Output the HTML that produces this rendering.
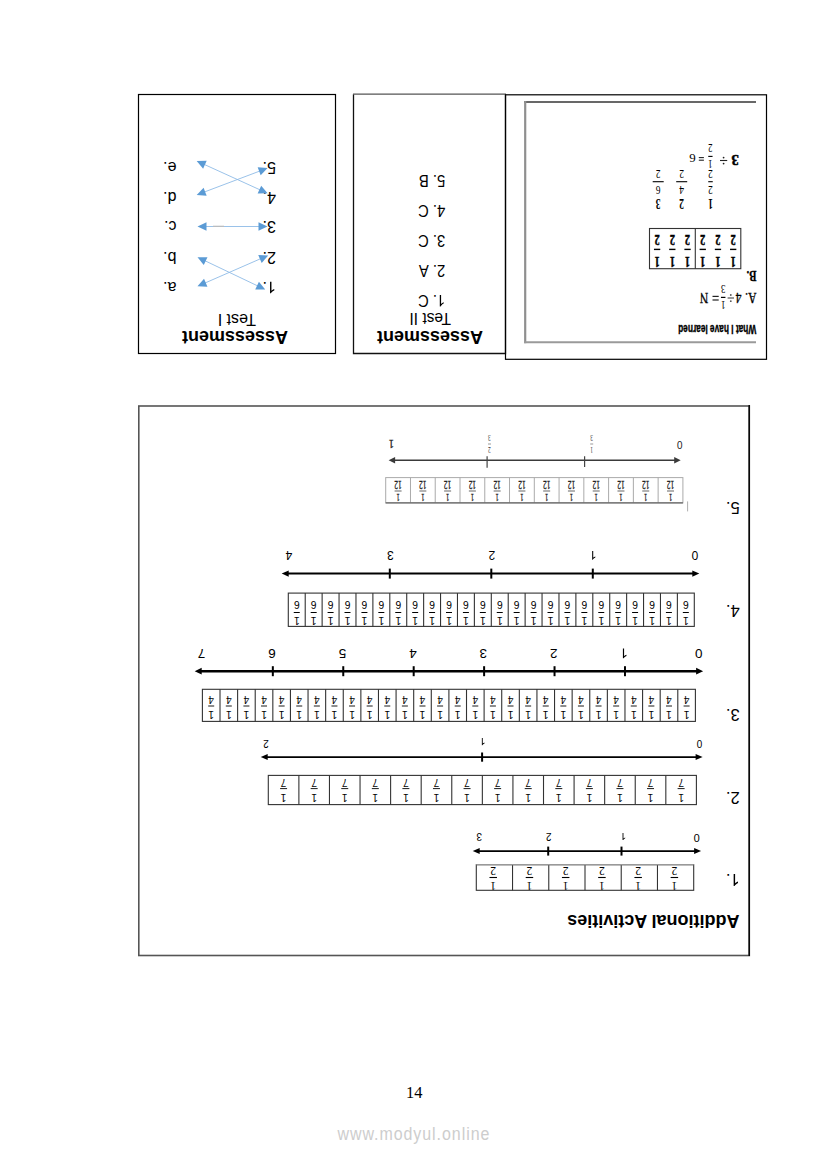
<!DOCTYPE html>
<html><head><meta charset="utf-8"><title>Page 14</title>
<style>html,body{margin:0;padding:0;background:#fff;}body{width:826px;height:1169px;position:relative;overflow:hidden;}svg{position:absolute;left:0;top:0;}</style>
</head><body>
<svg width="826" height="1169" viewBox="0 0 826 1169">
<rect x="138.50" y="94.50" width="197.00" height="259.00" stroke="#000" stroke-width="1.2" fill="none"/>
<polyline points="353.5,94.2 353.5,353.5 505.5,353.5 505.5,94.2" fill="none" stroke="#111" stroke-width="1.3"/>
<line x1="353.00" y1="94.10" x2="506.00" y2="94.10" stroke="#555" stroke-width="1.4"/>
<rect x="505.50" y="94.80" width="261.00" height="264.50" stroke="#000" stroke-width="1.2" fill="none"/>
<line x1="524.10" y1="101.90" x2="756.00" y2="101.90" stroke="#686868" stroke-width="2"/>
<line x1="525.20" y1="101.00" x2="525.20" y2="343.20" stroke="#8f8f8f" stroke-width="2.2"/>
<line x1="524.10" y1="342.20" x2="756.00" y2="342.20" stroke="#9a9a9a" stroke-width="2"/>
<g transform="translate(235.00,330.80) rotate(180)"><text x="0" y="0" font-family="'Liberation Sans', sans-serif" font-size="18" font-weight="bold" text-anchor="middle" fill="#000">Assessment</text></g>
<g transform="translate(236.90,313.50) rotate(180)"><text x="0" y="0" font-family="'Liberation Sans', sans-serif" font-size="16" font-weight="normal" text-anchor="middle" fill="#000">Test I</text></g>
<path transform="translate(276.00,281.80) scale(-0.00781,0.00781)" d="M763 0 L583 0 L583 1147 Q518 1085 412 1023 Q306 961 222 930 L222 1104 Q375 1176 489 1278 Q603 1380 651 1472 L763 1472 Z" fill="#000"/>
<g transform="translate(267.10,281.80) rotate(180)"><text x="0" y="0" font-family="'Liberation Sans', sans-serif" font-size="16" font-weight="normal" text-anchor="start" fill="#000">.</text></g>
<g transform="translate(176.50,281.80) rotate(180)"><text x="0" y="0" font-family="'Liberation Sans', sans-serif" font-size="16" font-weight="normal" text-anchor="start" fill="#000">a.</text></g>
<g transform="translate(276.00,251.80) rotate(180)"><text x="0" y="0" font-family="'Liberation Sans', sans-serif" font-size="16" font-weight="normal" text-anchor="start" fill="#000">2.</text></g>
<g transform="translate(176.50,251.80) rotate(180)"><text x="0" y="0" font-family="'Liberation Sans', sans-serif" font-size="16" font-weight="normal" text-anchor="start" fill="#000">b.</text></g>
<g transform="translate(276.00,221.40) rotate(180)"><text x="0" y="0" font-family="'Liberation Sans', sans-serif" font-size="16" font-weight="normal" text-anchor="start" fill="#000">3.</text></g>
<g transform="translate(176.50,221.40) rotate(180)"><text x="0" y="0" font-family="'Liberation Sans', sans-serif" font-size="16" font-weight="normal" text-anchor="start" fill="#000">c.</text></g>
<g transform="translate(276.00,191.80) rotate(180)"><text x="0" y="0" font-family="'Liberation Sans', sans-serif" font-size="16" font-weight="normal" text-anchor="start" fill="#000">4.</text></g>
<g transform="translate(176.50,191.80) rotate(180)"><text x="0" y="0" font-family="'Liberation Sans', sans-serif" font-size="16" font-weight="normal" text-anchor="start" fill="#000">d.</text></g>
<g transform="translate(276.00,161.80) rotate(180)"><text x="0" y="0" font-family="'Liberation Sans', sans-serif" font-size="16" font-weight="normal" text-anchor="start" fill="#000">5.</text></g>
<g transform="translate(176.50,161.80) rotate(180)"><text x="0" y="0" font-family="'Liberation Sans', sans-serif" font-size="16" font-weight="normal" text-anchor="start" fill="#000">e.</text></g>
<line x1="204.00" y1="260.30" x2="258.70" y2="286.40" stroke="#8fbbe6" stroke-width="0.9"/>
<polygon points="197.50,257.20 203.77,264.96 207.47,257.19" fill="#5b9bd5"/>
<polygon points="265.20,289.50 255.23,289.51 258.93,281.74" fill="#5b9bd5"/>
<line x1="204.10" y1="283.42" x2="261.60" y2="258.28" stroke="#8fbbe6" stroke-width="0.9"/>
<polygon points="197.50,286.30 207.47,286.64 204.02,278.76" fill="#5b9bd5"/>
<polygon points="268.20,255.40 261.68,262.94 258.23,255.06" fill="#5b9bd5"/>
<line x1="204.70" y1="226.50" x2="260.30" y2="226.50" stroke="#8fbbe6" stroke-width="0.9"/>
<polygon points="197.50,226.50 206.50,230.80 206.50,222.20" fill="#5b9bd5"/>
<polygon points="267.50,226.50 258.50,230.80 258.50,222.20" fill="#5b9bd5"/>
<line x1="213.00" y1="226.30" x2="224.00" y2="226.30" stroke="#bbb" stroke-width="1.2"/>
<line x1="203.25" y1="163.98" x2="261.05" y2="190.32" stroke="#8fbbe6" stroke-width="0.9"/>
<polygon points="196.70,161.00 203.11,168.64 206.67,160.82" fill="#5b9bd5"/>
<polygon points="267.60,193.30 257.63,193.48 261.19,185.66" fill="#5b9bd5"/>
<line x1="203.43" y1="192.35" x2="260.87" y2="170.65" stroke="#8fbbe6" stroke-width="0.9"/>
<polygon points="196.70,194.90 206.64,195.74 203.60,187.70" fill="#5b9bd5"/>
<polygon points="267.60,168.10 260.70,175.30 257.66,167.26" fill="#5b9bd5"/>
<g transform="translate(430.00,330.80) rotate(180)"><text x="0" y="0" font-family="'Liberation Sans', sans-serif" font-size="18" font-weight="bold" text-anchor="middle" fill="#000">Assessment</text></g>
<g transform="translate(430.10,313.20) rotate(180)"><text x="0" y="0" font-family="'Liberation Sans', sans-serif" font-size="15.6" font-weight="normal" text-anchor="middle" fill="#000">Test II</text></g>
<path transform="translate(445.30,295.00) scale(-0.00722,0.00776)" d="M763 0 L583 0 L583 1147 Q518 1085 412 1023 Q306 961 222 930 L222 1104 Q375 1176 489 1278 Q603 1380 651 1472 L763 1472 Z" fill="#000"/>
<g transform="translate(437.08,295.00) rotate(180) scale(0.93,1)"><text x="0" y="0" font-family="'Liberation Sans', sans-serif" font-size="15.9" font-weight="normal" text-anchor="start" fill="#000">.&#160;C</text></g>
<g transform="translate(445.30,265.00) rotate(180) scale(0.93,1)"><text x="0" y="0" font-family="'Liberation Sans', sans-serif" font-size="15.9" font-weight="normal" text-anchor="start" fill="#000">2.&#160;A</text></g>
<g transform="translate(445.30,234.90) rotate(180) scale(0.93,1)"><text x="0" y="0" font-family="'Liberation Sans', sans-serif" font-size="15.9" font-weight="normal" text-anchor="start" fill="#000">3.&#160;C</text></g>
<g transform="translate(445.30,204.80) rotate(180) scale(0.93,1)"><text x="0" y="0" font-family="'Liberation Sans', sans-serif" font-size="15.9" font-weight="normal" text-anchor="start" fill="#000">4.&#160;C</text></g>
<g transform="translate(445.30,174.80) rotate(180) scale(0.93,1)"><text x="0" y="0" font-family="'Liberation Sans', sans-serif" font-size="15.9" font-weight="normal" text-anchor="start" fill="#000">5.&#160;B</text></g>
<g transform="translate(756.20,324.60) rotate(180) scale(0.64,1)"><text x="0" y="0" font-family="'Liberation Sans', sans-serif" font-size="13" font-weight="bold" text-anchor="start" fill="#000" stroke="#000" stroke-width="0.35">What I have learned</text></g>
<g transform="translate(756.50,293.30) rotate(180) scale(0.75,1)"><text x="0" y="0" font-family="'Liberation Serif', serif" font-size="15.5" font-weight="normal" text-anchor="start" fill="#000" stroke="#000" stroke-width="0.3">A.</text></g>
<g transform="translate(738.50,293.30) rotate(180) scale(0.75,1)"><text x="0" y="0" font-family="'Liberation Serif', serif" font-size="15.5" font-weight="normal" text-anchor="middle" fill="#000" stroke="#000" stroke-width="0.3">4</text></g>
<line x1="727.60" y1="298.00" x2="734.00" y2="298.00" stroke="#444" stroke-width="1.1"/>
<circle cx="730.8" cy="295" r="0.9" fill="#555"/><circle cx="730.8" cy="301.2" r="0.9" fill="#555"/>
<g transform="translate(723.20,301.20) rotate(180) scale(0.75,1)"><text x="0" y="0" font-family="'Liberation Serif', serif" font-size="12" font-weight="normal" text-anchor="middle" fill="#000">1</text></g>
<g transform="translate(723.20,284.58) rotate(180) scale(0.75,1)"><text x="0" y="0" font-family="'Liberation Serif', serif" font-size="12" font-weight="normal" text-anchor="middle" fill="#000">3</text></g>
<line x1="720.95" y1="297.40" x2="725.45" y2="297.40" stroke="#000" stroke-width="1.2"/>
<line x1="712.50" y1="296.40" x2="718.70" y2="296.40" stroke="#222" stroke-width="1.2"/>
<line x1="712.50" y1="300.00" x2="718.70" y2="300.00" stroke="#222" stroke-width="1.2"/>
<g transform="translate(704.00,293.30) rotate(180) scale(0.75,1)"><text x="0" y="0" font-family="'Liberation Serif', serif" font-size="15.5" font-weight="normal" text-anchor="middle" fill="#000" stroke="#000" stroke-width="0.3">N</text></g>
<g transform="translate(756.50,271.40) rotate(180) scale(0.72,1)"><text x="0" y="0" font-family="'Liberation Serif', serif" font-size="15" font-weight="bold" text-anchor="start" fill="#000" stroke="#000" stroke-width="0.3">B.</text></g>
<rect x="649.50" y="228.50" width="91.30" height="40.20" stroke="#333" stroke-width="1.1" fill="none"/>
<line x1="695.30" y1="228.50" x2="695.30" y2="268.70" stroke="#333" stroke-width="1.1"/>
<g transform="translate(733.19,256.60) rotate(180) scale(0.66,1)"><text x="0" y="0" font-family="'Liberation Serif', serif" font-size="15.5" font-weight="bold" text-anchor="middle" fill="#000" stroke="#000" stroke-width="0.5">1</text></g>
<g transform="translate(733.19,235.17) rotate(180) scale(0.66,1)"><text x="0" y="0" font-family="'Liberation Serif', serif" font-size="15.5" font-weight="bold" text-anchor="middle" fill="#000" stroke="#000" stroke-width="0.5">2</text></g>
<line x1="730.04" y1="249.40" x2="736.34" y2="249.40" stroke="#000" stroke-width="1.4"/>
<g transform="translate(717.97,256.60) rotate(180) scale(0.66,1)"><text x="0" y="0" font-family="'Liberation Serif', serif" font-size="15.5" font-weight="bold" text-anchor="middle" fill="#000" stroke="#000" stroke-width="0.5">1</text></g>
<g transform="translate(717.97,235.17) rotate(180) scale(0.66,1)"><text x="0" y="0" font-family="'Liberation Serif', serif" font-size="15.5" font-weight="bold" text-anchor="middle" fill="#000" stroke="#000" stroke-width="0.5">2</text></g>
<line x1="714.82" y1="249.40" x2="721.12" y2="249.40" stroke="#000" stroke-width="1.4"/>
<g transform="translate(702.76,256.60) rotate(180) scale(0.66,1)"><text x="0" y="0" font-family="'Liberation Serif', serif" font-size="15.5" font-weight="bold" text-anchor="middle" fill="#000" stroke="#000" stroke-width="0.5">1</text></g>
<g transform="translate(702.76,235.17) rotate(180) scale(0.66,1)"><text x="0" y="0" font-family="'Liberation Serif', serif" font-size="15.5" font-weight="bold" text-anchor="middle" fill="#000" stroke="#000" stroke-width="0.5">2</text></g>
<line x1="699.61" y1="249.40" x2="705.91" y2="249.40" stroke="#000" stroke-width="1.4"/>
<g transform="translate(687.54,256.60) rotate(180) scale(0.66,1)"><text x="0" y="0" font-family="'Liberation Serif', serif" font-size="15.5" font-weight="bold" text-anchor="middle" fill="#000" stroke="#000" stroke-width="0.5">1</text></g>
<g transform="translate(687.54,235.17) rotate(180) scale(0.66,1)"><text x="0" y="0" font-family="'Liberation Serif', serif" font-size="15.5" font-weight="bold" text-anchor="middle" fill="#000" stroke="#000" stroke-width="0.5">2</text></g>
<line x1="684.39" y1="249.40" x2="690.69" y2="249.40" stroke="#000" stroke-width="1.4"/>
<g transform="translate(672.32,256.60) rotate(180) scale(0.66,1)"><text x="0" y="0" font-family="'Liberation Serif', serif" font-size="15.5" font-weight="bold" text-anchor="middle" fill="#000" stroke="#000" stroke-width="0.5">1</text></g>
<g transform="translate(672.32,235.17) rotate(180) scale(0.66,1)"><text x="0" y="0" font-family="'Liberation Serif', serif" font-size="15.5" font-weight="bold" text-anchor="middle" fill="#000" stroke="#000" stroke-width="0.5">2</text></g>
<line x1="669.17" y1="249.40" x2="675.47" y2="249.40" stroke="#000" stroke-width="1.4"/>
<g transform="translate(657.11,256.60) rotate(180) scale(0.66,1)"><text x="0" y="0" font-family="'Liberation Serif', serif" font-size="15.5" font-weight="bold" text-anchor="middle" fill="#000" stroke="#000" stroke-width="0.5">1</text></g>
<g transform="translate(657.11,235.17) rotate(180) scale(0.66,1)"><text x="0" y="0" font-family="'Liberation Serif', serif" font-size="15.5" font-weight="bold" text-anchor="middle" fill="#000" stroke="#000" stroke-width="0.5">2</text></g>
<line x1="653.96" y1="249.40" x2="660.26" y2="249.40" stroke="#000" stroke-width="1.4"/>
<g transform="translate(735.10,154.70) rotate(180) scale(0.94,1)"><text x="0" y="0" font-family="'Liberation Serif', serif" font-size="15.5" font-weight="bold" text-anchor="middle" fill="#000" stroke="#000" stroke-width="0.5">3</text></g>
<line x1="720.00" y1="160.50" x2="727.20" y2="160.50" stroke="#222" stroke-width="1.1"/>
<circle cx="723.6" cy="157.6" r="0.9" fill="#222"/><circle cx="723.6" cy="163.6" r="0.9" fill="#222"/>
<g transform="translate(710.40,160.00) rotate(180) scale(0.7,1)"><text x="0" y="0" font-family="'Liberation Serif', serif" font-size="12.5" font-weight="normal" text-anchor="middle" fill="#000">1</text></g>
<g transform="translate(710.40,144.45) rotate(180) scale(0.7,1)"><text x="0" y="0" font-family="'Liberation Serif', serif" font-size="12.5" font-weight="normal" text-anchor="middle" fill="#000">2</text></g>
<line x1="708.25" y1="156.40" x2="712.55" y2="156.40" stroke="#000" stroke-width="1.1"/>
<line x1="698.80" y1="157.60" x2="703.90" y2="157.60" stroke="#222" stroke-width="1.1"/>
<line x1="698.80" y1="160.20" x2="703.90" y2="160.20" stroke="#222" stroke-width="1.1"/>
<g transform="translate(692.60,154.00) rotate(180)"><text x="0" y="0" font-family="'Liberation Serif', serif" font-size="13" font-weight="normal" text-anchor="middle" fill="#000">6</text></g>
<g transform="translate(710.50,198.60) rotate(180) scale(0.62,1)"><text x="0" y="0" font-family="'Liberation Serif', serif" font-size="15.5" font-weight="bold" text-anchor="middle" fill="#000">1</text></g>
<g transform="translate(710.50,186.00) rotate(180) scale(0.75,1)"><text x="0" y="0" font-family="'Liberation Serif', serif" font-size="12.5" font-weight="normal" text-anchor="middle" fill="#000">2</text></g>
<g transform="translate(710.50,169.75) rotate(180) scale(0.75,1)"><text x="0" y="0" font-family="'Liberation Serif', serif" font-size="12.5" font-weight="normal" text-anchor="middle" fill="#000">2</text></g>
<line x1="708.25" y1="181.70" x2="712.75" y2="181.70" stroke="#000" stroke-width="1.1"/>
<g transform="translate(681.70,198.60) rotate(180) scale(0.62,1)"><text x="0" y="0" font-family="'Liberation Serif', serif" font-size="15.5" font-weight="bold" text-anchor="middle" fill="#000">2</text></g>
<g transform="translate(681.70,186.00) rotate(180) scale(0.75,1)"><text x="0" y="0" font-family="'Liberation Serif', serif" font-size="12.5" font-weight="normal" text-anchor="middle" fill="#000">4</text></g>
<g transform="translate(681.70,169.75) rotate(180) scale(0.75,1)"><text x="0" y="0" font-family="'Liberation Serif', serif" font-size="12.5" font-weight="normal" text-anchor="middle" fill="#000">2</text></g>
<line x1="676.20" y1="181.70" x2="687.20" y2="181.70" stroke="#000" stroke-width="1.1"/>
<g transform="translate(658.20,198.60) rotate(180) scale(0.62,1)"><text x="0" y="0" font-family="'Liberation Serif', serif" font-size="15.5" font-weight="bold" text-anchor="middle" fill="#000">3</text></g>
<g transform="translate(658.20,186.00) rotate(180) scale(0.75,1)"><text x="0" y="0" font-family="'Liberation Serif', serif" font-size="12.5" font-weight="normal" text-anchor="middle" fill="#000">6</text></g>
<g transform="translate(658.20,169.75) rotate(180) scale(0.75,1)"><text x="0" y="0" font-family="'Liberation Serif', serif" font-size="12.5" font-weight="normal" text-anchor="middle" fill="#000">2</text></g>
<line x1="652.70" y1="181.70" x2="663.70" y2="181.70" stroke="#000" stroke-width="1.1"/>
<rect x="138.8" y="406" width="610.5" height="549.5" fill="none" stroke="#555" stroke-width="1.6"/>
<line x1="749.20" y1="405.00" x2="749.20" y2="956.00" stroke="#000" stroke-width="1.4"/>
<g transform="translate(739.50,915.30) rotate(180)"><text x="0" y="0" font-family="'Liberation Sans', sans-serif" font-size="18" font-weight="bold" text-anchor="start" fill="#000">Additional Activities</text></g>
<g transform="translate(739.80,501.50) rotate(180)"><text x="0" y="0" font-family="'Liberation Sans', sans-serif" font-size="16.5" font-weight="normal" text-anchor="start" fill="#000">5.</text></g>
<g transform="translate(739.80,605.00) rotate(180)"><text x="0" y="0" font-family="'Liberation Sans', sans-serif" font-size="16.5" font-weight="normal" text-anchor="start" fill="#000">4.</text></g>
<g transform="translate(739.80,709.00) rotate(180)"><text x="0" y="0" font-family="'Liberation Sans', sans-serif" font-size="16.5" font-weight="normal" text-anchor="start" fill="#000">3.</text></g>
<g transform="translate(739.80,791.60) rotate(180)"><text x="0" y="0" font-family="'Liberation Sans', sans-serif" font-size="16.5" font-weight="normal" text-anchor="start" fill="#000">2.</text></g>
<path transform="translate(739.80,874.10) scale(-0.00806,0.00806)" d="M763 0 L583 0 L583 1147 Q518 1085 412 1023 Q306 961 222 930 L222 1104 Q375 1176 489 1278 Q603 1380 651 1472 L763 1472 Z" fill="#000"/>
<g transform="translate(730.62,874.10) rotate(180)"><text x="0" y="0" font-family="'Liberation Sans', sans-serif" font-size="16.5" font-weight="normal" text-anchor="start" fill="#000">.</text></g>
<rect x="476.30" y="864.70" width="217.40" height="25.60" stroke="#333" stroke-width="1.1" fill="none"/>
<line x1="512.53" y1="864.70" x2="512.53" y2="890.30" stroke="#333" stroke-width="1.1"/>
<line x1="548.77" y1="864.70" x2="548.77" y2="890.30" stroke="#333" stroke-width="1.1"/>
<line x1="585.00" y1="864.70" x2="585.00" y2="890.30" stroke="#333" stroke-width="1.1"/>
<line x1="621.23" y1="864.70" x2="621.23" y2="890.30" stroke="#333" stroke-width="1.1"/>
<line x1="657.47" y1="864.70" x2="657.47" y2="890.30" stroke="#333" stroke-width="1.1"/>
<line x1="476.30" y1="864.70" x2="693.70" y2="864.70" stroke="#999" stroke-width="1.2"/>
<g transform="translate(674.38,882.10) rotate(180)"><text x="0" y="0" font-family="'Liberation Serif', serif" font-size="11.5" font-weight="normal" text-anchor="middle" fill="#000">1</text></g>
<g transform="translate(674.38,867.11) rotate(180)"><text x="0" y="0" font-family="'Liberation Serif', serif" font-size="11.5" font-weight="normal" text-anchor="middle" fill="#000">2</text></g>
<line x1="670.63" y1="877.50" x2="678.13" y2="877.50" stroke="#000" stroke-width="1.1"/>
<g transform="translate(638.15,882.10) rotate(180)"><text x="0" y="0" font-family="'Liberation Serif', serif" font-size="11.5" font-weight="normal" text-anchor="middle" fill="#000">1</text></g>
<g transform="translate(638.15,867.11) rotate(180)"><text x="0" y="0" font-family="'Liberation Serif', serif" font-size="11.5" font-weight="normal" text-anchor="middle" fill="#000">2</text></g>
<line x1="634.40" y1="877.50" x2="641.90" y2="877.50" stroke="#000" stroke-width="1.1"/>
<g transform="translate(601.92,882.10) rotate(180)"><text x="0" y="0" font-family="'Liberation Serif', serif" font-size="11.5" font-weight="normal" text-anchor="middle" fill="#000">1</text></g>
<g transform="translate(601.92,867.11) rotate(180)"><text x="0" y="0" font-family="'Liberation Serif', serif" font-size="11.5" font-weight="normal" text-anchor="middle" fill="#000">2</text></g>
<line x1="598.17" y1="877.50" x2="605.67" y2="877.50" stroke="#000" stroke-width="1.1"/>
<g transform="translate(565.68,882.10) rotate(180)"><text x="0" y="0" font-family="'Liberation Serif', serif" font-size="11.5" font-weight="normal" text-anchor="middle" fill="#000">1</text></g>
<g transform="translate(565.68,867.11) rotate(180)"><text x="0" y="0" font-family="'Liberation Serif', serif" font-size="11.5" font-weight="normal" text-anchor="middle" fill="#000">2</text></g>
<line x1="561.93" y1="877.50" x2="569.43" y2="877.50" stroke="#000" stroke-width="1.1"/>
<g transform="translate(529.45,882.10) rotate(180)"><text x="0" y="0" font-family="'Liberation Serif', serif" font-size="11.5" font-weight="normal" text-anchor="middle" fill="#000">1</text></g>
<g transform="translate(529.45,867.11) rotate(180)"><text x="0" y="0" font-family="'Liberation Serif', serif" font-size="11.5" font-weight="normal" text-anchor="middle" fill="#000">2</text></g>
<line x1="525.70" y1="877.50" x2="533.20" y2="877.50" stroke="#000" stroke-width="1.1"/>
<g transform="translate(493.22,882.10) rotate(180)"><text x="0" y="0" font-family="'Liberation Serif', serif" font-size="11.5" font-weight="normal" text-anchor="middle" fill="#000">1</text></g>
<g transform="translate(493.22,867.11) rotate(180)"><text x="0" y="0" font-family="'Liberation Serif', serif" font-size="11.5" font-weight="normal" text-anchor="middle" fill="#000">2</text></g>
<line x1="489.47" y1="877.50" x2="496.97" y2="877.50" stroke="#000" stroke-width="1.1"/>
<line x1="478.70" y1="851.10" x2="695.10" y2="851.10" stroke="#000" stroke-width="1.8"/>
<polygon points="472.70,851.10 479.70,848.10 479.70,854.10" fill="#000"/>
<polygon points="701.10,851.10 694.10,848.10 694.10,854.10" fill="#000"/>
<line x1="621.50" y1="846.60" x2="621.50" y2="855.60" stroke="#000" stroke-width="2"/>
<line x1="548.20" y1="846.60" x2="548.20" y2="855.60" stroke="#000" stroke-width="2"/>
<g transform="translate(699.66,834.20) rotate(180)"><text x="0" y="0" font-family="'Liberation Sans', sans-serif" font-size="11" font-weight="normal" text-anchor="start" fill="#000">0</text></g>
<path transform="translate(626.28,832.90) scale(-0.00488,0.00488)" d="M763 0 L583 0 L583 1147 Q518 1085 412 1023 Q306 961 222 930 L222 1104 Q375 1176 489 1278 Q603 1380 651 1472 L763 1472 Z" fill="#000"/>
<g transform="translate(551.58,833.30) rotate(180)"><text x="0" y="0" font-family="'Liberation Sans', sans-serif" font-size="10" font-weight="normal" text-anchor="start" fill="#000">2</text></g>
<g transform="translate(482.08,833.30) rotate(180)"><text x="0" y="0" font-family="'Liberation Sans', sans-serif" font-size="10" font-weight="normal" text-anchor="start" fill="#000">3</text></g>
<rect x="268.30" y="775.40" width="428.10" height="29.20" stroke="#333" stroke-width="1.1" fill="none"/>
<line x1="298.88" y1="775.40" x2="298.88" y2="804.60" stroke="#333" stroke-width="1.1"/>
<line x1="329.46" y1="775.40" x2="329.46" y2="804.60" stroke="#333" stroke-width="1.1"/>
<line x1="360.04" y1="775.40" x2="360.04" y2="804.60" stroke="#333" stroke-width="1.1"/>
<line x1="390.61" y1="775.40" x2="390.61" y2="804.60" stroke="#333" stroke-width="1.1"/>
<line x1="421.19" y1="775.40" x2="421.19" y2="804.60" stroke="#333" stroke-width="1.1"/>
<line x1="451.77" y1="775.40" x2="451.77" y2="804.60" stroke="#333" stroke-width="1.1"/>
<line x1="482.35" y1="775.40" x2="482.35" y2="804.60" stroke="#333" stroke-width="1.1"/>
<line x1="512.93" y1="775.40" x2="512.93" y2="804.60" stroke="#333" stroke-width="1.1"/>
<line x1="543.51" y1="775.40" x2="543.51" y2="804.60" stroke="#333" stroke-width="1.1"/>
<line x1="574.09" y1="775.40" x2="574.09" y2="804.60" stroke="#333" stroke-width="1.1"/>
<line x1="604.66" y1="775.40" x2="604.66" y2="804.60" stroke="#333" stroke-width="1.1"/>
<line x1="635.24" y1="775.40" x2="635.24" y2="804.60" stroke="#333" stroke-width="1.1"/>
<line x1="665.82" y1="775.40" x2="665.82" y2="804.60" stroke="#333" stroke-width="1.1"/>
<g transform="translate(681.11,794.00) rotate(180)"><text x="0" y="0" font-family="'Liberation Sans', sans-serif" font-size="10" font-weight="normal" text-anchor="middle" fill="#000">1</text></g>
<g transform="translate(681.11,779.24) rotate(180)"><text x="0" y="0" font-family="'Liberation Sans', sans-serif" font-size="10" font-weight="normal" text-anchor="middle" fill="#000">7</text></g>
<line x1="677.61" y1="788.60" x2="684.61" y2="788.60" stroke="#000" stroke-width="0.9"/>
<g transform="translate(650.53,794.00) rotate(180)"><text x="0" y="0" font-family="'Liberation Sans', sans-serif" font-size="10" font-weight="normal" text-anchor="middle" fill="#000">1</text></g>
<g transform="translate(650.53,779.24) rotate(180)"><text x="0" y="0" font-family="'Liberation Sans', sans-serif" font-size="10" font-weight="normal" text-anchor="middle" fill="#000">7</text></g>
<line x1="647.03" y1="788.60" x2="654.03" y2="788.60" stroke="#000" stroke-width="0.9"/>
<g transform="translate(619.95,794.00) rotate(180)"><text x="0" y="0" font-family="'Liberation Sans', sans-serif" font-size="10" font-weight="normal" text-anchor="middle" fill="#000">1</text></g>
<g transform="translate(619.95,779.24) rotate(180)"><text x="0" y="0" font-family="'Liberation Sans', sans-serif" font-size="10" font-weight="normal" text-anchor="middle" fill="#000">7</text></g>
<line x1="616.45" y1="788.60" x2="623.45" y2="788.60" stroke="#000" stroke-width="0.9"/>
<g transform="translate(589.38,794.00) rotate(180)"><text x="0" y="0" font-family="'Liberation Sans', sans-serif" font-size="10" font-weight="normal" text-anchor="middle" fill="#000">1</text></g>
<g transform="translate(589.38,779.24) rotate(180)"><text x="0" y="0" font-family="'Liberation Sans', sans-serif" font-size="10" font-weight="normal" text-anchor="middle" fill="#000">7</text></g>
<line x1="585.88" y1="788.60" x2="592.88" y2="788.60" stroke="#000" stroke-width="0.9"/>
<g transform="translate(558.80,794.00) rotate(180)"><text x="0" y="0" font-family="'Liberation Sans', sans-serif" font-size="10" font-weight="normal" text-anchor="middle" fill="#000">1</text></g>
<g transform="translate(558.80,779.24) rotate(180)"><text x="0" y="0" font-family="'Liberation Sans', sans-serif" font-size="10" font-weight="normal" text-anchor="middle" fill="#000">7</text></g>
<line x1="555.30" y1="788.60" x2="562.30" y2="788.60" stroke="#000" stroke-width="0.9"/>
<g transform="translate(528.22,794.00) rotate(180)"><text x="0" y="0" font-family="'Liberation Sans', sans-serif" font-size="10" font-weight="normal" text-anchor="middle" fill="#000">1</text></g>
<g transform="translate(528.22,779.24) rotate(180)"><text x="0" y="0" font-family="'Liberation Sans', sans-serif" font-size="10" font-weight="normal" text-anchor="middle" fill="#000">7</text></g>
<line x1="524.72" y1="788.60" x2="531.72" y2="788.60" stroke="#000" stroke-width="0.9"/>
<g transform="translate(497.64,794.00) rotate(180)"><text x="0" y="0" font-family="'Liberation Sans', sans-serif" font-size="10" font-weight="normal" text-anchor="middle" fill="#000">1</text></g>
<g transform="translate(497.64,779.24) rotate(180)"><text x="0" y="0" font-family="'Liberation Sans', sans-serif" font-size="10" font-weight="normal" text-anchor="middle" fill="#000">7</text></g>
<line x1="494.14" y1="788.60" x2="501.14" y2="788.60" stroke="#000" stroke-width="0.9"/>
<g transform="translate(467.06,794.00) rotate(180)"><text x="0" y="0" font-family="'Liberation Sans', sans-serif" font-size="10" font-weight="normal" text-anchor="middle" fill="#000">1</text></g>
<g transform="translate(467.06,779.24) rotate(180)"><text x="0" y="0" font-family="'Liberation Sans', sans-serif" font-size="10" font-weight="normal" text-anchor="middle" fill="#000">7</text></g>
<line x1="463.56" y1="788.60" x2="470.56" y2="788.60" stroke="#000" stroke-width="0.9"/>
<g transform="translate(436.48,794.00) rotate(180)"><text x="0" y="0" font-family="'Liberation Sans', sans-serif" font-size="10" font-weight="normal" text-anchor="middle" fill="#000">1</text></g>
<g transform="translate(436.48,779.24) rotate(180)"><text x="0" y="0" font-family="'Liberation Sans', sans-serif" font-size="10" font-weight="normal" text-anchor="middle" fill="#000">7</text></g>
<line x1="432.98" y1="788.60" x2="439.98" y2="788.60" stroke="#000" stroke-width="0.9"/>
<g transform="translate(405.90,794.00) rotate(180)"><text x="0" y="0" font-family="'Liberation Sans', sans-serif" font-size="10" font-weight="normal" text-anchor="middle" fill="#000">1</text></g>
<g transform="translate(405.90,779.24) rotate(180)"><text x="0" y="0" font-family="'Liberation Sans', sans-serif" font-size="10" font-weight="normal" text-anchor="middle" fill="#000">7</text></g>
<line x1="402.40" y1="788.60" x2="409.40" y2="788.60" stroke="#000" stroke-width="0.9"/>
<g transform="translate(375.32,794.00) rotate(180)"><text x="0" y="0" font-family="'Liberation Sans', sans-serif" font-size="10" font-weight="normal" text-anchor="middle" fill="#000">1</text></g>
<g transform="translate(375.32,779.24) rotate(180)"><text x="0" y="0" font-family="'Liberation Sans', sans-serif" font-size="10" font-weight="normal" text-anchor="middle" fill="#000">7</text></g>
<line x1="371.82" y1="788.60" x2="378.82" y2="788.60" stroke="#000" stroke-width="0.9"/>
<g transform="translate(344.75,794.00) rotate(180)"><text x="0" y="0" font-family="'Liberation Sans', sans-serif" font-size="10" font-weight="normal" text-anchor="middle" fill="#000">1</text></g>
<g transform="translate(344.75,779.24) rotate(180)"><text x="0" y="0" font-family="'Liberation Sans', sans-serif" font-size="10" font-weight="normal" text-anchor="middle" fill="#000">7</text></g>
<line x1="341.25" y1="788.60" x2="348.25" y2="788.60" stroke="#000" stroke-width="0.9"/>
<g transform="translate(314.17,794.00) rotate(180)"><text x="0" y="0" font-family="'Liberation Sans', sans-serif" font-size="10" font-weight="normal" text-anchor="middle" fill="#000">1</text></g>
<g transform="translate(314.17,779.24) rotate(180)"><text x="0" y="0" font-family="'Liberation Sans', sans-serif" font-size="10" font-weight="normal" text-anchor="middle" fill="#000">7</text></g>
<line x1="310.67" y1="788.60" x2="317.67" y2="788.60" stroke="#000" stroke-width="0.9"/>
<g transform="translate(283.59,794.00) rotate(180)"><text x="0" y="0" font-family="'Liberation Sans', sans-serif" font-size="10" font-weight="normal" text-anchor="middle" fill="#000">1</text></g>
<g transform="translate(283.59,779.24) rotate(180)"><text x="0" y="0" font-family="'Liberation Sans', sans-serif" font-size="10" font-weight="normal" text-anchor="middle" fill="#000">7</text></g>
<line x1="280.09" y1="788.60" x2="287.09" y2="788.60" stroke="#000" stroke-width="0.9"/>
<line x1="266.70" y1="757.10" x2="696.60" y2="757.10" stroke="#000" stroke-width="1.8"/>
<polygon points="260.70,757.10 267.70,754.10 267.70,760.10" fill="#000"/>
<polygon points="702.60,757.10 695.60,754.10 695.60,760.10" fill="#000"/>
<line x1="482.10" y1="752.50" x2="482.10" y2="761.70" stroke="#000" stroke-width="2"/>
<g transform="translate(702.28,740.00) rotate(180)"><text x="0" y="0" font-family="'Liberation Sans', sans-serif" font-size="10" font-weight="normal" text-anchor="start" fill="#000">0</text></g>
<path transform="translate(485.58,738.00) scale(-0.00488,0.00488)" d="M763 0 L583 0 L583 1147 Q518 1085 412 1023 Q306 961 222 930 L222 1104 Q375 1176 489 1278 Q603 1380 651 1472 L763 1472 Z" fill="#000"/>
<g transform="translate(268.78,740.00) rotate(180)"><text x="0" y="0" font-family="'Liberation Sans', sans-serif" font-size="10" font-weight="normal" text-anchor="start" fill="#000">2</text></g>
<rect x="202.40" y="689.30" width="493.00" height="32.10" stroke="#333" stroke-width="1.1" fill="none"/>
<line x1="220.01" y1="689.30" x2="220.01" y2="721.40" stroke="#333" stroke-width="1.1"/>
<line x1="237.61" y1="689.30" x2="237.61" y2="721.40" stroke="#333" stroke-width="1.1"/>
<line x1="255.22" y1="689.30" x2="255.22" y2="721.40" stroke="#333" stroke-width="1.1"/>
<line x1="272.83" y1="689.30" x2="272.83" y2="721.40" stroke="#333" stroke-width="1.1"/>
<line x1="290.44" y1="689.30" x2="290.44" y2="721.40" stroke="#333" stroke-width="1.1"/>
<line x1="308.04" y1="689.30" x2="308.04" y2="721.40" stroke="#333" stroke-width="1.1"/>
<line x1="325.65" y1="689.30" x2="325.65" y2="721.40" stroke="#333" stroke-width="1.1"/>
<line x1="343.26" y1="689.30" x2="343.26" y2="721.40" stroke="#333" stroke-width="1.1"/>
<line x1="360.86" y1="689.30" x2="360.86" y2="721.40" stroke="#333" stroke-width="1.1"/>
<line x1="378.47" y1="689.30" x2="378.47" y2="721.40" stroke="#333" stroke-width="1.1"/>
<line x1="396.08" y1="689.30" x2="396.08" y2="721.40" stroke="#333" stroke-width="1.1"/>
<line x1="413.69" y1="689.30" x2="413.69" y2="721.40" stroke="#333" stroke-width="1.1"/>
<line x1="431.29" y1="689.30" x2="431.29" y2="721.40" stroke="#333" stroke-width="1.1"/>
<line x1="448.90" y1="689.30" x2="448.90" y2="721.40" stroke="#333" stroke-width="1.1"/>
<line x1="466.51" y1="689.30" x2="466.51" y2="721.40" stroke="#333" stroke-width="1.1"/>
<line x1="484.11" y1="689.30" x2="484.11" y2="721.40" stroke="#333" stroke-width="1.1"/>
<line x1="501.72" y1="689.30" x2="501.72" y2="721.40" stroke="#333" stroke-width="1.1"/>
<line x1="519.33" y1="689.30" x2="519.33" y2="721.40" stroke="#333" stroke-width="1.1"/>
<line x1="536.94" y1="689.30" x2="536.94" y2="721.40" stroke="#333" stroke-width="1.1"/>
<line x1="554.54" y1="689.30" x2="554.54" y2="721.40" stroke="#333" stroke-width="1.1"/>
<line x1="572.15" y1="689.30" x2="572.15" y2="721.40" stroke="#333" stroke-width="1.1"/>
<line x1="589.76" y1="689.30" x2="589.76" y2="721.40" stroke="#333" stroke-width="1.1"/>
<line x1="607.36" y1="689.30" x2="607.36" y2="721.40" stroke="#333" stroke-width="1.1"/>
<line x1="624.97" y1="689.30" x2="624.97" y2="721.40" stroke="#333" stroke-width="1.1"/>
<line x1="642.58" y1="689.30" x2="642.58" y2="721.40" stroke="#333" stroke-width="1.1"/>
<line x1="660.19" y1="689.30" x2="660.19" y2="721.40" stroke="#333" stroke-width="1.1"/>
<line x1="677.79" y1="689.30" x2="677.79" y2="721.40" stroke="#333" stroke-width="1.1"/>
<g transform="translate(686.60,711.20) rotate(180)"><text x="0" y="0" font-family="'Liberation Sans', sans-serif" font-size="10.3" font-weight="normal" text-anchor="middle" fill="#000">1</text></g>
<g transform="translate(686.60,696.33) rotate(180)"><text x="0" y="0" font-family="'Liberation Sans', sans-serif" font-size="10.3" font-weight="normal" text-anchor="middle" fill="#000">4</text></g>
<line x1="683.60" y1="706.00" x2="689.60" y2="706.00" stroke="#000" stroke-width="0.9"/>
<g transform="translate(668.99,711.20) rotate(180)"><text x="0" y="0" font-family="'Liberation Sans', sans-serif" font-size="10.3" font-weight="normal" text-anchor="middle" fill="#000">1</text></g>
<g transform="translate(668.99,696.33) rotate(180)"><text x="0" y="0" font-family="'Liberation Sans', sans-serif" font-size="10.3" font-weight="normal" text-anchor="middle" fill="#000">4</text></g>
<line x1="665.99" y1="706.00" x2="671.99" y2="706.00" stroke="#000" stroke-width="0.9"/>
<g transform="translate(651.38,711.20) rotate(180)"><text x="0" y="0" font-family="'Liberation Sans', sans-serif" font-size="10.3" font-weight="normal" text-anchor="middle" fill="#000">1</text></g>
<g transform="translate(651.38,696.33) rotate(180)"><text x="0" y="0" font-family="'Liberation Sans', sans-serif" font-size="10.3" font-weight="normal" text-anchor="middle" fill="#000">4</text></g>
<line x1="648.38" y1="706.00" x2="654.38" y2="706.00" stroke="#000" stroke-width="0.9"/>
<g transform="translate(633.77,711.20) rotate(180)"><text x="0" y="0" font-family="'Liberation Sans', sans-serif" font-size="10.3" font-weight="normal" text-anchor="middle" fill="#000">1</text></g>
<g transform="translate(633.77,696.33) rotate(180)"><text x="0" y="0" font-family="'Liberation Sans', sans-serif" font-size="10.3" font-weight="normal" text-anchor="middle" fill="#000">4</text></g>
<line x1="630.77" y1="706.00" x2="636.77" y2="706.00" stroke="#000" stroke-width="0.9"/>
<g transform="translate(616.17,711.20) rotate(180)"><text x="0" y="0" font-family="'Liberation Sans', sans-serif" font-size="10.3" font-weight="normal" text-anchor="middle" fill="#000">1</text></g>
<g transform="translate(616.17,696.33) rotate(180)"><text x="0" y="0" font-family="'Liberation Sans', sans-serif" font-size="10.3" font-weight="normal" text-anchor="middle" fill="#000">4</text></g>
<line x1="613.17" y1="706.00" x2="619.17" y2="706.00" stroke="#000" stroke-width="0.9"/>
<g transform="translate(598.56,711.20) rotate(180)"><text x="0" y="0" font-family="'Liberation Sans', sans-serif" font-size="10.3" font-weight="normal" text-anchor="middle" fill="#000">1</text></g>
<g transform="translate(598.56,696.33) rotate(180)"><text x="0" y="0" font-family="'Liberation Sans', sans-serif" font-size="10.3" font-weight="normal" text-anchor="middle" fill="#000">4</text></g>
<line x1="595.56" y1="706.00" x2="601.56" y2="706.00" stroke="#000" stroke-width="0.9"/>
<g transform="translate(580.95,711.20) rotate(180)"><text x="0" y="0" font-family="'Liberation Sans', sans-serif" font-size="10.3" font-weight="normal" text-anchor="middle" fill="#000">1</text></g>
<g transform="translate(580.95,696.33) rotate(180)"><text x="0" y="0" font-family="'Liberation Sans', sans-serif" font-size="10.3" font-weight="normal" text-anchor="middle" fill="#000">4</text></g>
<line x1="577.95" y1="706.00" x2="583.95" y2="706.00" stroke="#000" stroke-width="0.9"/>
<g transform="translate(563.35,711.20) rotate(180)"><text x="0" y="0" font-family="'Liberation Sans', sans-serif" font-size="10.3" font-weight="normal" text-anchor="middle" fill="#000">1</text></g>
<g transform="translate(563.35,696.33) rotate(180)"><text x="0" y="0" font-family="'Liberation Sans', sans-serif" font-size="10.3" font-weight="normal" text-anchor="middle" fill="#000">4</text></g>
<line x1="560.35" y1="706.00" x2="566.35" y2="706.00" stroke="#000" stroke-width="0.9"/>
<g transform="translate(545.74,711.20) rotate(180)"><text x="0" y="0" font-family="'Liberation Sans', sans-serif" font-size="10.3" font-weight="normal" text-anchor="middle" fill="#000">1</text></g>
<g transform="translate(545.74,696.33) rotate(180)"><text x="0" y="0" font-family="'Liberation Sans', sans-serif" font-size="10.3" font-weight="normal" text-anchor="middle" fill="#000">4</text></g>
<line x1="542.74" y1="706.00" x2="548.74" y2="706.00" stroke="#000" stroke-width="0.9"/>
<g transform="translate(528.13,711.20) rotate(180)"><text x="0" y="0" font-family="'Liberation Sans', sans-serif" font-size="10.3" font-weight="normal" text-anchor="middle" fill="#000">1</text></g>
<g transform="translate(528.13,696.33) rotate(180)"><text x="0" y="0" font-family="'Liberation Sans', sans-serif" font-size="10.3" font-weight="normal" text-anchor="middle" fill="#000">4</text></g>
<line x1="525.13" y1="706.00" x2="531.13" y2="706.00" stroke="#000" stroke-width="0.9"/>
<g transform="translate(510.52,711.20) rotate(180)"><text x="0" y="0" font-family="'Liberation Sans', sans-serif" font-size="10.3" font-weight="normal" text-anchor="middle" fill="#000">1</text></g>
<g transform="translate(510.52,696.33) rotate(180)"><text x="0" y="0" font-family="'Liberation Sans', sans-serif" font-size="10.3" font-weight="normal" text-anchor="middle" fill="#000">4</text></g>
<line x1="507.52" y1="706.00" x2="513.52" y2="706.00" stroke="#000" stroke-width="0.9"/>
<g transform="translate(492.92,711.20) rotate(180)"><text x="0" y="0" font-family="'Liberation Sans', sans-serif" font-size="10.3" font-weight="normal" text-anchor="middle" fill="#000">1</text></g>
<g transform="translate(492.92,696.33) rotate(180)"><text x="0" y="0" font-family="'Liberation Sans', sans-serif" font-size="10.3" font-weight="normal" text-anchor="middle" fill="#000">4</text></g>
<line x1="489.92" y1="706.00" x2="495.92" y2="706.00" stroke="#000" stroke-width="0.9"/>
<g transform="translate(475.31,711.20) rotate(180)"><text x="0" y="0" font-family="'Liberation Sans', sans-serif" font-size="10.3" font-weight="normal" text-anchor="middle" fill="#000">1</text></g>
<g transform="translate(475.31,696.33) rotate(180)"><text x="0" y="0" font-family="'Liberation Sans', sans-serif" font-size="10.3" font-weight="normal" text-anchor="middle" fill="#000">4</text></g>
<line x1="472.31" y1="706.00" x2="478.31" y2="706.00" stroke="#000" stroke-width="0.9"/>
<g transform="translate(457.70,711.20) rotate(180)"><text x="0" y="0" font-family="'Liberation Sans', sans-serif" font-size="10.3" font-weight="normal" text-anchor="middle" fill="#000">1</text></g>
<g transform="translate(457.70,696.33) rotate(180)"><text x="0" y="0" font-family="'Liberation Sans', sans-serif" font-size="10.3" font-weight="normal" text-anchor="middle" fill="#000">4</text></g>
<line x1="454.70" y1="706.00" x2="460.70" y2="706.00" stroke="#000" stroke-width="0.9"/>
<g transform="translate(440.10,711.20) rotate(180)"><text x="0" y="0" font-family="'Liberation Sans', sans-serif" font-size="10.3" font-weight="normal" text-anchor="middle" fill="#000">1</text></g>
<g transform="translate(440.10,696.33) rotate(180)"><text x="0" y="0" font-family="'Liberation Sans', sans-serif" font-size="10.3" font-weight="normal" text-anchor="middle" fill="#000">4</text></g>
<line x1="437.10" y1="706.00" x2="443.10" y2="706.00" stroke="#000" stroke-width="0.9"/>
<g transform="translate(422.49,711.20) rotate(180)"><text x="0" y="0" font-family="'Liberation Sans', sans-serif" font-size="10.3" font-weight="normal" text-anchor="middle" fill="#000">1</text></g>
<g transform="translate(422.49,696.33) rotate(180)"><text x="0" y="0" font-family="'Liberation Sans', sans-serif" font-size="10.3" font-weight="normal" text-anchor="middle" fill="#000">4</text></g>
<line x1="419.49" y1="706.00" x2="425.49" y2="706.00" stroke="#000" stroke-width="0.9"/>
<g transform="translate(404.88,711.20) rotate(180)"><text x="0" y="0" font-family="'Liberation Sans', sans-serif" font-size="10.3" font-weight="normal" text-anchor="middle" fill="#000">1</text></g>
<g transform="translate(404.88,696.33) rotate(180)"><text x="0" y="0" font-family="'Liberation Sans', sans-serif" font-size="10.3" font-weight="normal" text-anchor="middle" fill="#000">4</text></g>
<line x1="401.88" y1="706.00" x2="407.88" y2="706.00" stroke="#000" stroke-width="0.9"/>
<g transform="translate(387.27,711.20) rotate(180)"><text x="0" y="0" font-family="'Liberation Sans', sans-serif" font-size="10.3" font-weight="normal" text-anchor="middle" fill="#000">1</text></g>
<g transform="translate(387.27,696.33) rotate(180)"><text x="0" y="0" font-family="'Liberation Sans', sans-serif" font-size="10.3" font-weight="normal" text-anchor="middle" fill="#000">4</text></g>
<line x1="384.27" y1="706.00" x2="390.27" y2="706.00" stroke="#000" stroke-width="0.9"/>
<g transform="translate(369.67,711.20) rotate(180)"><text x="0" y="0" font-family="'Liberation Sans', sans-serif" font-size="10.3" font-weight="normal" text-anchor="middle" fill="#000">1</text></g>
<g transform="translate(369.67,696.33) rotate(180)"><text x="0" y="0" font-family="'Liberation Sans', sans-serif" font-size="10.3" font-weight="normal" text-anchor="middle" fill="#000">4</text></g>
<line x1="366.67" y1="706.00" x2="372.67" y2="706.00" stroke="#000" stroke-width="0.9"/>
<g transform="translate(352.06,711.20) rotate(180)"><text x="0" y="0" font-family="'Liberation Sans', sans-serif" font-size="10.3" font-weight="normal" text-anchor="middle" fill="#000">1</text></g>
<g transform="translate(352.06,696.33) rotate(180)"><text x="0" y="0" font-family="'Liberation Sans', sans-serif" font-size="10.3" font-weight="normal" text-anchor="middle" fill="#000">4</text></g>
<line x1="349.06" y1="706.00" x2="355.06" y2="706.00" stroke="#000" stroke-width="0.9"/>
<g transform="translate(334.45,711.20) rotate(180)"><text x="0" y="0" font-family="'Liberation Sans', sans-serif" font-size="10.3" font-weight="normal" text-anchor="middle" fill="#000">1</text></g>
<g transform="translate(334.45,696.33) rotate(180)"><text x="0" y="0" font-family="'Liberation Sans', sans-serif" font-size="10.3" font-weight="normal" text-anchor="middle" fill="#000">4</text></g>
<line x1="331.45" y1="706.00" x2="337.45" y2="706.00" stroke="#000" stroke-width="0.9"/>
<g transform="translate(316.85,711.20) rotate(180)"><text x="0" y="0" font-family="'Liberation Sans', sans-serif" font-size="10.3" font-weight="normal" text-anchor="middle" fill="#000">1</text></g>
<g transform="translate(316.85,696.33) rotate(180)"><text x="0" y="0" font-family="'Liberation Sans', sans-serif" font-size="10.3" font-weight="normal" text-anchor="middle" fill="#000">4</text></g>
<line x1="313.85" y1="706.00" x2="319.85" y2="706.00" stroke="#000" stroke-width="0.9"/>
<g transform="translate(299.24,711.20) rotate(180)"><text x="0" y="0" font-family="'Liberation Sans', sans-serif" font-size="10.3" font-weight="normal" text-anchor="middle" fill="#000">1</text></g>
<g transform="translate(299.24,696.33) rotate(180)"><text x="0" y="0" font-family="'Liberation Sans', sans-serif" font-size="10.3" font-weight="normal" text-anchor="middle" fill="#000">4</text></g>
<line x1="296.24" y1="706.00" x2="302.24" y2="706.00" stroke="#000" stroke-width="0.9"/>
<g transform="translate(281.63,711.20) rotate(180)"><text x="0" y="0" font-family="'Liberation Sans', sans-serif" font-size="10.3" font-weight="normal" text-anchor="middle" fill="#000">1</text></g>
<g transform="translate(281.63,696.33) rotate(180)"><text x="0" y="0" font-family="'Liberation Sans', sans-serif" font-size="10.3" font-weight="normal" text-anchor="middle" fill="#000">4</text></g>
<line x1="278.63" y1="706.00" x2="284.63" y2="706.00" stroke="#000" stroke-width="0.9"/>
<g transform="translate(264.02,711.20) rotate(180)"><text x="0" y="0" font-family="'Liberation Sans', sans-serif" font-size="10.3" font-weight="normal" text-anchor="middle" fill="#000">1</text></g>
<g transform="translate(264.02,696.33) rotate(180)"><text x="0" y="0" font-family="'Liberation Sans', sans-serif" font-size="10.3" font-weight="normal" text-anchor="middle" fill="#000">4</text></g>
<line x1="261.02" y1="706.00" x2="267.02" y2="706.00" stroke="#000" stroke-width="0.9"/>
<g transform="translate(246.42,711.20) rotate(180)"><text x="0" y="0" font-family="'Liberation Sans', sans-serif" font-size="10.3" font-weight="normal" text-anchor="middle" fill="#000">1</text></g>
<g transform="translate(246.42,696.33) rotate(180)"><text x="0" y="0" font-family="'Liberation Sans', sans-serif" font-size="10.3" font-weight="normal" text-anchor="middle" fill="#000">4</text></g>
<line x1="243.42" y1="706.00" x2="249.42" y2="706.00" stroke="#000" stroke-width="0.9"/>
<g transform="translate(228.81,711.20) rotate(180)"><text x="0" y="0" font-family="'Liberation Sans', sans-serif" font-size="10.3" font-weight="normal" text-anchor="middle" fill="#000">1</text></g>
<g transform="translate(228.81,696.33) rotate(180)"><text x="0" y="0" font-family="'Liberation Sans', sans-serif" font-size="10.3" font-weight="normal" text-anchor="middle" fill="#000">4</text></g>
<line x1="225.81" y1="706.00" x2="231.81" y2="706.00" stroke="#000" stroke-width="0.9"/>
<g transform="translate(211.20,711.20) rotate(180)"><text x="0" y="0" font-family="'Liberation Sans', sans-serif" font-size="10.3" font-weight="normal" text-anchor="middle" fill="#000">1</text></g>
<g transform="translate(211.20,696.33) rotate(180)"><text x="0" y="0" font-family="'Liberation Sans', sans-serif" font-size="10.3" font-weight="normal" text-anchor="middle" fill="#000">4</text></g>
<line x1="208.20" y1="706.00" x2="214.20" y2="706.00" stroke="#000" stroke-width="0.9"/>
<line x1="200.70" y1="671.20" x2="697.10" y2="671.20" stroke="#000" stroke-width="2.5"/>
<polygon points="194.70,671.20 201.70,667.80 201.70,674.60" fill="#000"/>
<polygon points="703.10,671.20 696.10,667.80 696.10,674.60" fill="#000"/>
<line x1="624.97" y1="666.20" x2="624.97" y2="676.20" stroke="#000" stroke-width="2"/>
<line x1="554.54" y1="666.20" x2="554.54" y2="676.20" stroke="#000" stroke-width="2"/>
<line x1="484.11" y1="666.20" x2="484.11" y2="676.20" stroke="#000" stroke-width="2"/>
<line x1="413.69" y1="666.20" x2="413.69" y2="676.20" stroke="#000" stroke-width="2"/>
<line x1="343.26" y1="666.20" x2="343.26" y2="676.20" stroke="#000" stroke-width="2"/>
<line x1="272.83" y1="666.20" x2="272.83" y2="676.20" stroke="#000" stroke-width="2"/>
<g transform="translate(702.45,648.60) rotate(180)"><text x="0" y="0" font-family="'Liberation Sans', sans-serif" font-size="13.5" font-weight="normal" text-anchor="start" fill="#000">0</text></g>
<path transform="translate(627.93,648.60) scale(-0.00659,0.00659)" d="M763 0 L583 0 L583 1147 Q518 1085 412 1023 Q306 961 222 930 L222 1104 Q375 1176 489 1278 Q603 1380 651 1472 L763 1472 Z" fill="#000"/>
<g transform="translate(557.50,648.60) rotate(180)"><text x="0" y="0" font-family="'Liberation Sans', sans-serif" font-size="13.5" font-weight="normal" text-anchor="start" fill="#000">2</text></g>
<g transform="translate(487.07,648.60) rotate(180)"><text x="0" y="0" font-family="'Liberation Sans', sans-serif" font-size="13.5" font-weight="normal" text-anchor="start" fill="#000">3</text></g>
<g transform="translate(416.64,648.60) rotate(180)"><text x="0" y="0" font-family="'Liberation Sans', sans-serif" font-size="13.5" font-weight="normal" text-anchor="start" fill="#000">4</text></g>
<g transform="translate(346.21,648.60) rotate(180)"><text x="0" y="0" font-family="'Liberation Sans', sans-serif" font-size="13.5" font-weight="normal" text-anchor="start" fill="#000">5</text></g>
<g transform="translate(275.78,648.60) rotate(180)"><text x="0" y="0" font-family="'Liberation Sans', sans-serif" font-size="13.5" font-weight="normal" text-anchor="start" fill="#000">6</text></g>
<g transform="translate(205.35,648.60) rotate(180)"><text x="0" y="0" font-family="'Liberation Sans', sans-serif" font-size="13.5" font-weight="normal" text-anchor="start" fill="#000">7</text></g>
<rect x="288.30" y="593.10" width="406.00" height="33.30" stroke="#333" stroke-width="1.1" fill="none"/>
<line x1="305.22" y1="593.10" x2="305.22" y2="626.40" stroke="#333" stroke-width="1.1"/>
<line x1="322.13" y1="593.10" x2="322.13" y2="626.40" stroke="#333" stroke-width="1.1"/>
<line x1="339.05" y1="593.10" x2="339.05" y2="626.40" stroke="#333" stroke-width="1.1"/>
<line x1="355.97" y1="593.10" x2="355.97" y2="626.40" stroke="#333" stroke-width="1.1"/>
<line x1="372.88" y1="593.10" x2="372.88" y2="626.40" stroke="#333" stroke-width="1.1"/>
<line x1="389.80" y1="593.10" x2="389.80" y2="626.40" stroke="#333" stroke-width="1.1"/>
<line x1="406.72" y1="593.10" x2="406.72" y2="626.40" stroke="#333" stroke-width="1.1"/>
<line x1="423.63" y1="593.10" x2="423.63" y2="626.40" stroke="#333" stroke-width="1.1"/>
<line x1="440.55" y1="593.10" x2="440.55" y2="626.40" stroke="#333" stroke-width="1.1"/>
<line x1="457.47" y1="593.10" x2="457.47" y2="626.40" stroke="#333" stroke-width="1.1"/>
<line x1="474.38" y1="593.10" x2="474.38" y2="626.40" stroke="#333" stroke-width="1.1"/>
<line x1="491.30" y1="593.10" x2="491.30" y2="626.40" stroke="#333" stroke-width="1.1"/>
<line x1="508.22" y1="593.10" x2="508.22" y2="626.40" stroke="#333" stroke-width="1.1"/>
<line x1="525.13" y1="593.10" x2="525.13" y2="626.40" stroke="#333" stroke-width="1.1"/>
<line x1="542.05" y1="593.10" x2="542.05" y2="626.40" stroke="#333" stroke-width="1.1"/>
<line x1="558.97" y1="593.10" x2="558.97" y2="626.40" stroke="#333" stroke-width="1.1"/>
<line x1="575.88" y1="593.10" x2="575.88" y2="626.40" stroke="#333" stroke-width="1.1"/>
<line x1="592.80" y1="593.10" x2="592.80" y2="626.40" stroke="#333" stroke-width="1.1"/>
<line x1="609.72" y1="593.10" x2="609.72" y2="626.40" stroke="#333" stroke-width="1.1"/>
<line x1="626.63" y1="593.10" x2="626.63" y2="626.40" stroke="#333" stroke-width="1.1"/>
<line x1="643.55" y1="593.10" x2="643.55" y2="626.40" stroke="#333" stroke-width="1.1"/>
<line x1="660.47" y1="593.10" x2="660.47" y2="626.40" stroke="#333" stroke-width="1.1"/>
<line x1="677.38" y1="593.10" x2="677.38" y2="626.40" stroke="#333" stroke-width="1.1"/>
<g transform="translate(685.84,617.20) rotate(180) scale(0.92,1)"><text x="0" y="0" font-family="'Liberation Sans', sans-serif" font-size="11.3" font-weight="normal" text-anchor="middle" fill="#000">1</text></g>
<g transform="translate(685.84,601.11) rotate(180) scale(0.92,1)"><text x="0" y="0" font-family="'Liberation Sans', sans-serif" font-size="11.3" font-weight="normal" text-anchor="middle" fill="#000">6</text></g>
<line x1="682.84" y1="612.50" x2="688.84" y2="612.50" stroke="#000" stroke-width="1.0"/>
<g transform="translate(668.92,617.20) rotate(180) scale(0.92,1)"><text x="0" y="0" font-family="'Liberation Sans', sans-serif" font-size="11.3" font-weight="normal" text-anchor="middle" fill="#000">1</text></g>
<g transform="translate(668.92,601.11) rotate(180) scale(0.92,1)"><text x="0" y="0" font-family="'Liberation Sans', sans-serif" font-size="11.3" font-weight="normal" text-anchor="middle" fill="#000">6</text></g>
<line x1="665.92" y1="612.50" x2="671.92" y2="612.50" stroke="#000" stroke-width="1.0"/>
<g transform="translate(652.01,617.20) rotate(180) scale(0.92,1)"><text x="0" y="0" font-family="'Liberation Sans', sans-serif" font-size="11.3" font-weight="normal" text-anchor="middle" fill="#000">1</text></g>
<g transform="translate(652.01,601.11) rotate(180) scale(0.92,1)"><text x="0" y="0" font-family="'Liberation Sans', sans-serif" font-size="11.3" font-weight="normal" text-anchor="middle" fill="#000">6</text></g>
<line x1="649.01" y1="612.50" x2="655.01" y2="612.50" stroke="#000" stroke-width="1.0"/>
<g transform="translate(635.09,617.20) rotate(180) scale(0.92,1)"><text x="0" y="0" font-family="'Liberation Sans', sans-serif" font-size="11.3" font-weight="normal" text-anchor="middle" fill="#000">1</text></g>
<g transform="translate(635.09,601.11) rotate(180) scale(0.92,1)"><text x="0" y="0" font-family="'Liberation Sans', sans-serif" font-size="11.3" font-weight="normal" text-anchor="middle" fill="#000">6</text></g>
<line x1="632.09" y1="612.50" x2="638.09" y2="612.50" stroke="#000" stroke-width="1.0"/>
<g transform="translate(618.17,617.20) rotate(180) scale(0.92,1)"><text x="0" y="0" font-family="'Liberation Sans', sans-serif" font-size="11.3" font-weight="normal" text-anchor="middle" fill="#000">1</text></g>
<g transform="translate(618.17,601.11) rotate(180) scale(0.92,1)"><text x="0" y="0" font-family="'Liberation Sans', sans-serif" font-size="11.3" font-weight="normal" text-anchor="middle" fill="#000">6</text></g>
<line x1="615.17" y1="612.50" x2="621.17" y2="612.50" stroke="#000" stroke-width="1.0"/>
<g transform="translate(601.26,617.20) rotate(180) scale(0.92,1)"><text x="0" y="0" font-family="'Liberation Sans', sans-serif" font-size="11.3" font-weight="normal" text-anchor="middle" fill="#000">1</text></g>
<g transform="translate(601.26,601.11) rotate(180) scale(0.92,1)"><text x="0" y="0" font-family="'Liberation Sans', sans-serif" font-size="11.3" font-weight="normal" text-anchor="middle" fill="#000">6</text></g>
<line x1="598.26" y1="612.50" x2="604.26" y2="612.50" stroke="#000" stroke-width="1.0"/>
<g transform="translate(584.34,617.20) rotate(180) scale(0.92,1)"><text x="0" y="0" font-family="'Liberation Sans', sans-serif" font-size="11.3" font-weight="normal" text-anchor="middle" fill="#000">1</text></g>
<g transform="translate(584.34,601.11) rotate(180) scale(0.92,1)"><text x="0" y="0" font-family="'Liberation Sans', sans-serif" font-size="11.3" font-weight="normal" text-anchor="middle" fill="#000">6</text></g>
<line x1="581.34" y1="612.50" x2="587.34" y2="612.50" stroke="#000" stroke-width="1.0"/>
<g transform="translate(567.42,617.20) rotate(180) scale(0.92,1)"><text x="0" y="0" font-family="'Liberation Sans', sans-serif" font-size="11.3" font-weight="normal" text-anchor="middle" fill="#000">1</text></g>
<g transform="translate(567.42,601.11) rotate(180) scale(0.92,1)"><text x="0" y="0" font-family="'Liberation Sans', sans-serif" font-size="11.3" font-weight="normal" text-anchor="middle" fill="#000">6</text></g>
<line x1="564.42" y1="612.50" x2="570.42" y2="612.50" stroke="#000" stroke-width="1.0"/>
<g transform="translate(550.51,617.20) rotate(180) scale(0.92,1)"><text x="0" y="0" font-family="'Liberation Sans', sans-serif" font-size="11.3" font-weight="normal" text-anchor="middle" fill="#000">1</text></g>
<g transform="translate(550.51,601.11) rotate(180) scale(0.92,1)"><text x="0" y="0" font-family="'Liberation Sans', sans-serif" font-size="11.3" font-weight="normal" text-anchor="middle" fill="#000">6</text></g>
<line x1="547.51" y1="612.50" x2="553.51" y2="612.50" stroke="#000" stroke-width="1.0"/>
<g transform="translate(533.59,617.20) rotate(180) scale(0.92,1)"><text x="0" y="0" font-family="'Liberation Sans', sans-serif" font-size="11.3" font-weight="normal" text-anchor="middle" fill="#000">1</text></g>
<g transform="translate(533.59,601.11) rotate(180) scale(0.92,1)"><text x="0" y="0" font-family="'Liberation Sans', sans-serif" font-size="11.3" font-weight="normal" text-anchor="middle" fill="#000">6</text></g>
<line x1="530.59" y1="612.50" x2="536.59" y2="612.50" stroke="#000" stroke-width="1.0"/>
<g transform="translate(516.67,617.20) rotate(180) scale(0.92,1)"><text x="0" y="0" font-family="'Liberation Sans', sans-serif" font-size="11.3" font-weight="normal" text-anchor="middle" fill="#000">1</text></g>
<g transform="translate(516.67,601.11) rotate(180) scale(0.92,1)"><text x="0" y="0" font-family="'Liberation Sans', sans-serif" font-size="11.3" font-weight="normal" text-anchor="middle" fill="#000">6</text></g>
<line x1="513.67" y1="612.50" x2="519.67" y2="612.50" stroke="#000" stroke-width="1.0"/>
<g transform="translate(499.76,617.20) rotate(180) scale(0.92,1)"><text x="0" y="0" font-family="'Liberation Sans', sans-serif" font-size="11.3" font-weight="normal" text-anchor="middle" fill="#000">1</text></g>
<g transform="translate(499.76,601.11) rotate(180) scale(0.92,1)"><text x="0" y="0" font-family="'Liberation Sans', sans-serif" font-size="11.3" font-weight="normal" text-anchor="middle" fill="#000">6</text></g>
<line x1="496.76" y1="612.50" x2="502.76" y2="612.50" stroke="#000" stroke-width="1.0"/>
<g transform="translate(482.84,617.20) rotate(180) scale(0.92,1)"><text x="0" y="0" font-family="'Liberation Sans', sans-serif" font-size="11.3" font-weight="normal" text-anchor="middle" fill="#000">1</text></g>
<g transform="translate(482.84,601.11) rotate(180) scale(0.92,1)"><text x="0" y="0" font-family="'Liberation Sans', sans-serif" font-size="11.3" font-weight="normal" text-anchor="middle" fill="#000">6</text></g>
<line x1="479.84" y1="612.50" x2="485.84" y2="612.50" stroke="#000" stroke-width="1.0"/>
<g transform="translate(465.92,617.20) rotate(180) scale(0.92,1)"><text x="0" y="0" font-family="'Liberation Sans', sans-serif" font-size="11.3" font-weight="normal" text-anchor="middle" fill="#000">1</text></g>
<g transform="translate(465.92,601.11) rotate(180) scale(0.92,1)"><text x="0" y="0" font-family="'Liberation Sans', sans-serif" font-size="11.3" font-weight="normal" text-anchor="middle" fill="#000">6</text></g>
<line x1="462.92" y1="612.50" x2="468.92" y2="612.50" stroke="#000" stroke-width="1.0"/>
<g transform="translate(449.01,617.20) rotate(180) scale(0.92,1)"><text x="0" y="0" font-family="'Liberation Sans', sans-serif" font-size="11.3" font-weight="normal" text-anchor="middle" fill="#000">1</text></g>
<g transform="translate(449.01,601.11) rotate(180) scale(0.92,1)"><text x="0" y="0" font-family="'Liberation Sans', sans-serif" font-size="11.3" font-weight="normal" text-anchor="middle" fill="#000">6</text></g>
<line x1="446.01" y1="612.50" x2="452.01" y2="612.50" stroke="#000" stroke-width="1.0"/>
<g transform="translate(432.09,617.20) rotate(180) scale(0.92,1)"><text x="0" y="0" font-family="'Liberation Sans', sans-serif" font-size="11.3" font-weight="normal" text-anchor="middle" fill="#000">1</text></g>
<g transform="translate(432.09,601.11) rotate(180) scale(0.92,1)"><text x="0" y="0" font-family="'Liberation Sans', sans-serif" font-size="11.3" font-weight="normal" text-anchor="middle" fill="#000">6</text></g>
<line x1="429.09" y1="612.50" x2="435.09" y2="612.50" stroke="#000" stroke-width="1.0"/>
<g transform="translate(415.18,617.20) rotate(180) scale(0.92,1)"><text x="0" y="0" font-family="'Liberation Sans', sans-serif" font-size="11.3" font-weight="normal" text-anchor="middle" fill="#000">1</text></g>
<g transform="translate(415.18,601.11) rotate(180) scale(0.92,1)"><text x="0" y="0" font-family="'Liberation Sans', sans-serif" font-size="11.3" font-weight="normal" text-anchor="middle" fill="#000">6</text></g>
<line x1="412.18" y1="612.50" x2="418.18" y2="612.50" stroke="#000" stroke-width="1.0"/>
<g transform="translate(398.26,617.20) rotate(180) scale(0.92,1)"><text x="0" y="0" font-family="'Liberation Sans', sans-serif" font-size="11.3" font-weight="normal" text-anchor="middle" fill="#000">1</text></g>
<g transform="translate(398.26,601.11) rotate(180) scale(0.92,1)"><text x="0" y="0" font-family="'Liberation Sans', sans-serif" font-size="11.3" font-weight="normal" text-anchor="middle" fill="#000">6</text></g>
<line x1="395.26" y1="612.50" x2="401.26" y2="612.50" stroke="#000" stroke-width="1.0"/>
<g transform="translate(381.34,617.20) rotate(180) scale(0.92,1)"><text x="0" y="0" font-family="'Liberation Sans', sans-serif" font-size="11.3" font-weight="normal" text-anchor="middle" fill="#000">1</text></g>
<g transform="translate(381.34,601.11) rotate(180) scale(0.92,1)"><text x="0" y="0" font-family="'Liberation Sans', sans-serif" font-size="11.3" font-weight="normal" text-anchor="middle" fill="#000">6</text></g>
<line x1="378.34" y1="612.50" x2="384.34" y2="612.50" stroke="#000" stroke-width="1.0"/>
<g transform="translate(364.43,617.20) rotate(180) scale(0.92,1)"><text x="0" y="0" font-family="'Liberation Sans', sans-serif" font-size="11.3" font-weight="normal" text-anchor="middle" fill="#000">1</text></g>
<g transform="translate(364.43,601.11) rotate(180) scale(0.92,1)"><text x="0" y="0" font-family="'Liberation Sans', sans-serif" font-size="11.3" font-weight="normal" text-anchor="middle" fill="#000">6</text></g>
<line x1="361.43" y1="612.50" x2="367.43" y2="612.50" stroke="#000" stroke-width="1.0"/>
<g transform="translate(347.51,617.20) rotate(180) scale(0.92,1)"><text x="0" y="0" font-family="'Liberation Sans', sans-serif" font-size="11.3" font-weight="normal" text-anchor="middle" fill="#000">1</text></g>
<g transform="translate(347.51,601.11) rotate(180) scale(0.92,1)"><text x="0" y="0" font-family="'Liberation Sans', sans-serif" font-size="11.3" font-weight="normal" text-anchor="middle" fill="#000">6</text></g>
<line x1="344.51" y1="612.50" x2="350.51" y2="612.50" stroke="#000" stroke-width="1.0"/>
<g transform="translate(330.59,617.20) rotate(180) scale(0.92,1)"><text x="0" y="0" font-family="'Liberation Sans', sans-serif" font-size="11.3" font-weight="normal" text-anchor="middle" fill="#000">1</text></g>
<g transform="translate(330.59,601.11) rotate(180) scale(0.92,1)"><text x="0" y="0" font-family="'Liberation Sans', sans-serif" font-size="11.3" font-weight="normal" text-anchor="middle" fill="#000">6</text></g>
<line x1="327.59" y1="612.50" x2="333.59" y2="612.50" stroke="#000" stroke-width="1.0"/>
<g transform="translate(313.68,617.20) rotate(180) scale(0.92,1)"><text x="0" y="0" font-family="'Liberation Sans', sans-serif" font-size="11.3" font-weight="normal" text-anchor="middle" fill="#000">1</text></g>
<g transform="translate(313.68,601.11) rotate(180) scale(0.92,1)"><text x="0" y="0" font-family="'Liberation Sans', sans-serif" font-size="11.3" font-weight="normal" text-anchor="middle" fill="#000">6</text></g>
<line x1="310.68" y1="612.50" x2="316.68" y2="612.50" stroke="#000" stroke-width="1.0"/>
<g transform="translate(296.76,617.20) rotate(180) scale(0.92,1)"><text x="0" y="0" font-family="'Liberation Sans', sans-serif" font-size="11.3" font-weight="normal" text-anchor="middle" fill="#000">1</text></g>
<g transform="translate(296.76,601.11) rotate(180) scale(0.92,1)"><text x="0" y="0" font-family="'Liberation Sans', sans-serif" font-size="11.3" font-weight="normal" text-anchor="middle" fill="#000">6</text></g>
<line x1="293.76" y1="612.50" x2="299.76" y2="612.50" stroke="#000" stroke-width="1.0"/>
<line x1="287.70" y1="573.60" x2="693.30" y2="573.60" stroke="#000" stroke-width="2"/>
<polygon points="281.70,573.60 288.70,570.40 288.70,576.80" fill="#000"/>
<polygon points="699.30,573.60 692.30,570.40 692.30,576.80" fill="#000"/>
<line x1="592.80" y1="568.60" x2="592.80" y2="578.60" stroke="#000" stroke-width="2"/>
<line x1="491.30" y1="568.60" x2="491.30" y2="578.60" stroke="#000" stroke-width="2"/>
<line x1="389.80" y1="568.60" x2="389.80" y2="578.60" stroke="#000" stroke-width="2"/>
<g transform="translate(698.14,551.00) rotate(180)"><text x="0" y="0" font-family="'Liberation Sans', sans-serif" font-size="12" font-weight="normal" text-anchor="start" fill="#000">0</text></g>
<path transform="translate(596.64,551.00) scale(-0.00586,0.00586)" d="M763 0 L583 0 L583 1147 Q518 1085 412 1023 Q306 961 222 930 L222 1104 Q375 1176 489 1278 Q603 1380 651 1472 L763 1472 Z" fill="#000"/>
<g transform="translate(495.14,551.00) rotate(180)"><text x="0" y="0" font-family="'Liberation Sans', sans-serif" font-size="12" font-weight="normal" text-anchor="start" fill="#000">2</text></g>
<g transform="translate(393.64,551.00) rotate(180)"><text x="0" y="0" font-family="'Liberation Sans', sans-serif" font-size="12" font-weight="normal" text-anchor="start" fill="#000">3</text></g>
<g transform="translate(292.14,551.00) rotate(180)"><text x="0" y="0" font-family="'Liberation Sans', sans-serif" font-size="12" font-weight="normal" text-anchor="start" fill="#000">4</text></g>
<rect x="385.70" y="477.60" width="297.20" height="25.30" stroke="#aaa" stroke-width="1" fill="none"/>
<line x1="410.47" y1="477.60" x2="410.47" y2="502.90" stroke="#aaa" stroke-width="1"/>
<line x1="435.23" y1="477.60" x2="435.23" y2="502.90" stroke="#aaa" stroke-width="1"/>
<line x1="460.00" y1="477.60" x2="460.00" y2="502.90" stroke="#aaa" stroke-width="1"/>
<line x1="484.77" y1="477.60" x2="484.77" y2="502.90" stroke="#aaa" stroke-width="1"/>
<line x1="509.53" y1="477.60" x2="509.53" y2="502.90" stroke="#aaa" stroke-width="1"/>
<line x1="534.30" y1="477.60" x2="534.30" y2="502.90" stroke="#aaa" stroke-width="1"/>
<line x1="559.07" y1="477.60" x2="559.07" y2="502.90" stroke="#aaa" stroke-width="1"/>
<line x1="583.83" y1="477.60" x2="583.83" y2="502.90" stroke="#aaa" stroke-width="1"/>
<line x1="608.60" y1="477.60" x2="608.60" y2="502.90" stroke="#aaa" stroke-width="1"/>
<line x1="633.37" y1="477.60" x2="633.37" y2="502.90" stroke="#aaa" stroke-width="1"/>
<line x1="658.13" y1="477.60" x2="658.13" y2="502.90" stroke="#aaa" stroke-width="1"/>
<line x1="385.70" y1="502.90" x2="682.90" y2="502.90" stroke="#666" stroke-width="1.1"/>
<g transform="translate(670.52,494.20) rotate(180) scale(0.62,1)"><text x="0" y="0" font-family="'Liberation Serif', serif" font-size="10.5" font-weight="normal" text-anchor="middle" fill="#222" stroke="#222" stroke-width="0.3">1</text></g>
<g transform="translate(670.52,480.88) rotate(180) scale(0.62,1)"><text x="0" y="0" font-family="'Liberation Serif', serif" font-size="12" font-weight="normal" text-anchor="middle" fill="#222" stroke="#222" stroke-width="0.3">12</text></g>
<line x1="667.02" y1="491.00" x2="674.02" y2="491.00" stroke="#222" stroke-width="0.7"/>
<g transform="translate(645.75,494.20) rotate(180) scale(0.62,1)"><text x="0" y="0" font-family="'Liberation Serif', serif" font-size="10.5" font-weight="normal" text-anchor="middle" fill="#222" stroke="#222" stroke-width="0.3">1</text></g>
<g transform="translate(645.75,480.88) rotate(180) scale(0.62,1)"><text x="0" y="0" font-family="'Liberation Serif', serif" font-size="12" font-weight="normal" text-anchor="middle" fill="#222" stroke="#222" stroke-width="0.3">12</text></g>
<line x1="642.25" y1="491.00" x2="649.25" y2="491.00" stroke="#222" stroke-width="0.7"/>
<g transform="translate(620.98,494.20) rotate(180) scale(0.62,1)"><text x="0" y="0" font-family="'Liberation Serif', serif" font-size="10.5" font-weight="normal" text-anchor="middle" fill="#222" stroke="#222" stroke-width="0.3">1</text></g>
<g transform="translate(620.98,480.88) rotate(180) scale(0.62,1)"><text x="0" y="0" font-family="'Liberation Serif', serif" font-size="12" font-weight="normal" text-anchor="middle" fill="#222" stroke="#222" stroke-width="0.3">12</text></g>
<line x1="617.48" y1="491.00" x2="624.48" y2="491.00" stroke="#222" stroke-width="0.7"/>
<g transform="translate(596.22,494.20) rotate(180) scale(0.62,1)"><text x="0" y="0" font-family="'Liberation Serif', serif" font-size="10.5" font-weight="normal" text-anchor="middle" fill="#222" stroke="#222" stroke-width="0.3">1</text></g>
<g transform="translate(596.22,480.88) rotate(180) scale(0.62,1)"><text x="0" y="0" font-family="'Liberation Serif', serif" font-size="12" font-weight="normal" text-anchor="middle" fill="#222" stroke="#222" stroke-width="0.3">12</text></g>
<line x1="592.72" y1="491.00" x2="599.72" y2="491.00" stroke="#222" stroke-width="0.7"/>
<g transform="translate(571.45,494.20) rotate(180) scale(0.62,1)"><text x="0" y="0" font-family="'Liberation Serif', serif" font-size="10.5" font-weight="normal" text-anchor="middle" fill="#222" stroke="#222" stroke-width="0.3">1</text></g>
<g transform="translate(571.45,480.88) rotate(180) scale(0.62,1)"><text x="0" y="0" font-family="'Liberation Serif', serif" font-size="12" font-weight="normal" text-anchor="middle" fill="#222" stroke="#222" stroke-width="0.3">12</text></g>
<line x1="567.95" y1="491.00" x2="574.95" y2="491.00" stroke="#222" stroke-width="0.7"/>
<g transform="translate(546.68,494.20) rotate(180) scale(0.62,1)"><text x="0" y="0" font-family="'Liberation Serif', serif" font-size="10.5" font-weight="normal" text-anchor="middle" fill="#222" stroke="#222" stroke-width="0.3">1</text></g>
<g transform="translate(546.68,480.88) rotate(180) scale(0.62,1)"><text x="0" y="0" font-family="'Liberation Serif', serif" font-size="12" font-weight="normal" text-anchor="middle" fill="#222" stroke="#222" stroke-width="0.3">12</text></g>
<line x1="543.18" y1="491.00" x2="550.18" y2="491.00" stroke="#222" stroke-width="0.7"/>
<g transform="translate(521.92,494.20) rotate(180) scale(0.62,1)"><text x="0" y="0" font-family="'Liberation Serif', serif" font-size="10.5" font-weight="normal" text-anchor="middle" fill="#222" stroke="#222" stroke-width="0.3">1</text></g>
<g transform="translate(521.92,480.88) rotate(180) scale(0.62,1)"><text x="0" y="0" font-family="'Liberation Serif', serif" font-size="12" font-weight="normal" text-anchor="middle" fill="#222" stroke="#222" stroke-width="0.3">12</text></g>
<line x1="518.42" y1="491.00" x2="525.42" y2="491.00" stroke="#222" stroke-width="0.7"/>
<g transform="translate(497.15,494.20) rotate(180) scale(0.62,1)"><text x="0" y="0" font-family="'Liberation Serif', serif" font-size="10.5" font-weight="normal" text-anchor="middle" fill="#222" stroke="#222" stroke-width="0.3">1</text></g>
<g transform="translate(497.15,480.88) rotate(180) scale(0.62,1)"><text x="0" y="0" font-family="'Liberation Serif', serif" font-size="12" font-weight="normal" text-anchor="middle" fill="#222" stroke="#222" stroke-width="0.3">12</text></g>
<line x1="493.65" y1="491.00" x2="500.65" y2="491.00" stroke="#222" stroke-width="0.7"/>
<g transform="translate(472.38,494.20) rotate(180) scale(0.62,1)"><text x="0" y="0" font-family="'Liberation Serif', serif" font-size="10.5" font-weight="normal" text-anchor="middle" fill="#222" stroke="#222" stroke-width="0.3">1</text></g>
<g transform="translate(472.38,480.88) rotate(180) scale(0.62,1)"><text x="0" y="0" font-family="'Liberation Serif', serif" font-size="12" font-weight="normal" text-anchor="middle" fill="#222" stroke="#222" stroke-width="0.3">12</text></g>
<line x1="468.88" y1="491.00" x2="475.88" y2="491.00" stroke="#222" stroke-width="0.7"/>
<g transform="translate(447.62,494.20) rotate(180) scale(0.62,1)"><text x="0" y="0" font-family="'Liberation Serif', serif" font-size="10.5" font-weight="normal" text-anchor="middle" fill="#222" stroke="#222" stroke-width="0.3">1</text></g>
<g transform="translate(447.62,480.88) rotate(180) scale(0.62,1)"><text x="0" y="0" font-family="'Liberation Serif', serif" font-size="12" font-weight="normal" text-anchor="middle" fill="#222" stroke="#222" stroke-width="0.3">12</text></g>
<line x1="444.12" y1="491.00" x2="451.12" y2="491.00" stroke="#222" stroke-width="0.7"/>
<g transform="translate(422.85,494.20) rotate(180) scale(0.62,1)"><text x="0" y="0" font-family="'Liberation Serif', serif" font-size="10.5" font-weight="normal" text-anchor="middle" fill="#222" stroke="#222" stroke-width="0.3">1</text></g>
<g transform="translate(422.85,480.88) rotate(180) scale(0.62,1)"><text x="0" y="0" font-family="'Liberation Serif', serif" font-size="12" font-weight="normal" text-anchor="middle" fill="#222" stroke="#222" stroke-width="0.3">12</text></g>
<line x1="419.35" y1="491.00" x2="426.35" y2="491.00" stroke="#222" stroke-width="0.7"/>
<g transform="translate(398.08,494.20) rotate(180) scale(0.62,1)"><text x="0" y="0" font-family="'Liberation Serif', serif" font-size="10.5" font-weight="normal" text-anchor="middle" fill="#222" stroke="#222" stroke-width="0.3">1</text></g>
<g transform="translate(398.08,480.88) rotate(180) scale(0.62,1)"><text x="0" y="0" font-family="'Liberation Serif', serif" font-size="12" font-weight="normal" text-anchor="middle" fill="#222" stroke="#222" stroke-width="0.3">12</text></g>
<line x1="394.58" y1="491.00" x2="401.58" y2="491.00" stroke="#222" stroke-width="0.7"/>
<line x1="394.10" y1="460.30" x2="675.20" y2="460.30" stroke="#3a3a3a" stroke-width="1.5"/>
<polygon points="388.60,460.30 395.10,457.10 395.10,463.50" fill="#3a3a3a"/>
<polygon points="680.70,460.30 674.20,457.10 674.20,463.50" fill="#3a3a3a"/>
<line x1="487.10" y1="456.20" x2="487.10" y2="467.80" stroke="#444" stroke-width="1.2"/>
<line x1="584.60" y1="456.20" x2="584.60" y2="467.00" stroke="#444" stroke-width="1.2"/>
<g transform="translate(679.80,440.80) rotate(180)"><text x="0" y="0" font-family="'Liberation Sans', sans-serif" font-size="10" font-weight="normal" text-anchor="middle" fill="#222">0</text></g>
<g transform="translate(391.40,439.60) rotate(180) scale(0.85,1)"><text x="0" y="0" font-family="'Liberation Serif', serif" font-size="12.5" font-weight="normal" text-anchor="middle" fill="#222" stroke="#222" stroke-width="0.3">1</text></g>
<g transform="translate(489.50,446.50) rotate(180) scale(0.6,1)"><text x="0" y="0" font-family="'Liberation Serif', serif" font-size="9" font-weight="normal" text-anchor="middle" fill="#333">2</text></g>
<line x1="488.00" y1="444.00" x2="491.00" y2="444.00" stroke="#555" stroke-width="0.6"/>
<g transform="translate(489.50,434.80) rotate(180) scale(0.6,1)"><text x="0" y="0" font-family="'Liberation Serif', serif" font-size="9" font-weight="normal" text-anchor="middle" fill="#333">3</text></g>
<g transform="translate(591.70,446.50) rotate(180) scale(0.6,1)"><text x="0" y="0" font-family="'Liberation Serif', serif" font-size="9" font-weight="normal" text-anchor="middle" fill="#333">1</text></g>
<line x1="590.20" y1="444.00" x2="593.20" y2="444.00" stroke="#555" stroke-width="0.6"/>
<g transform="translate(591.70,434.80) rotate(180) scale(0.6,1)"><text x="0" y="0" font-family="'Liberation Serif', serif" font-size="9" font-weight="normal" text-anchor="middle" fill="#333">3</text></g>
<line x1="687.60" y1="501.40" x2="687.60" y2="511.40" stroke="#999" stroke-width="0.8"/>
<text x="414.2" y="1098.3" text-anchor="middle" font-family="'Liberation Serif', serif" font-size="16.4" fill="#000">14</text>
<g transform="translate(413.9,1139.7) scale(1,1.12)"><text x="0" y="0" text-anchor="middle" font-family="'Liberation Sans', sans-serif" font-size="16" letter-spacing="0.95" fill="#cdcdcd">www.modyul.online</text></g>
</svg>

</body></html>
